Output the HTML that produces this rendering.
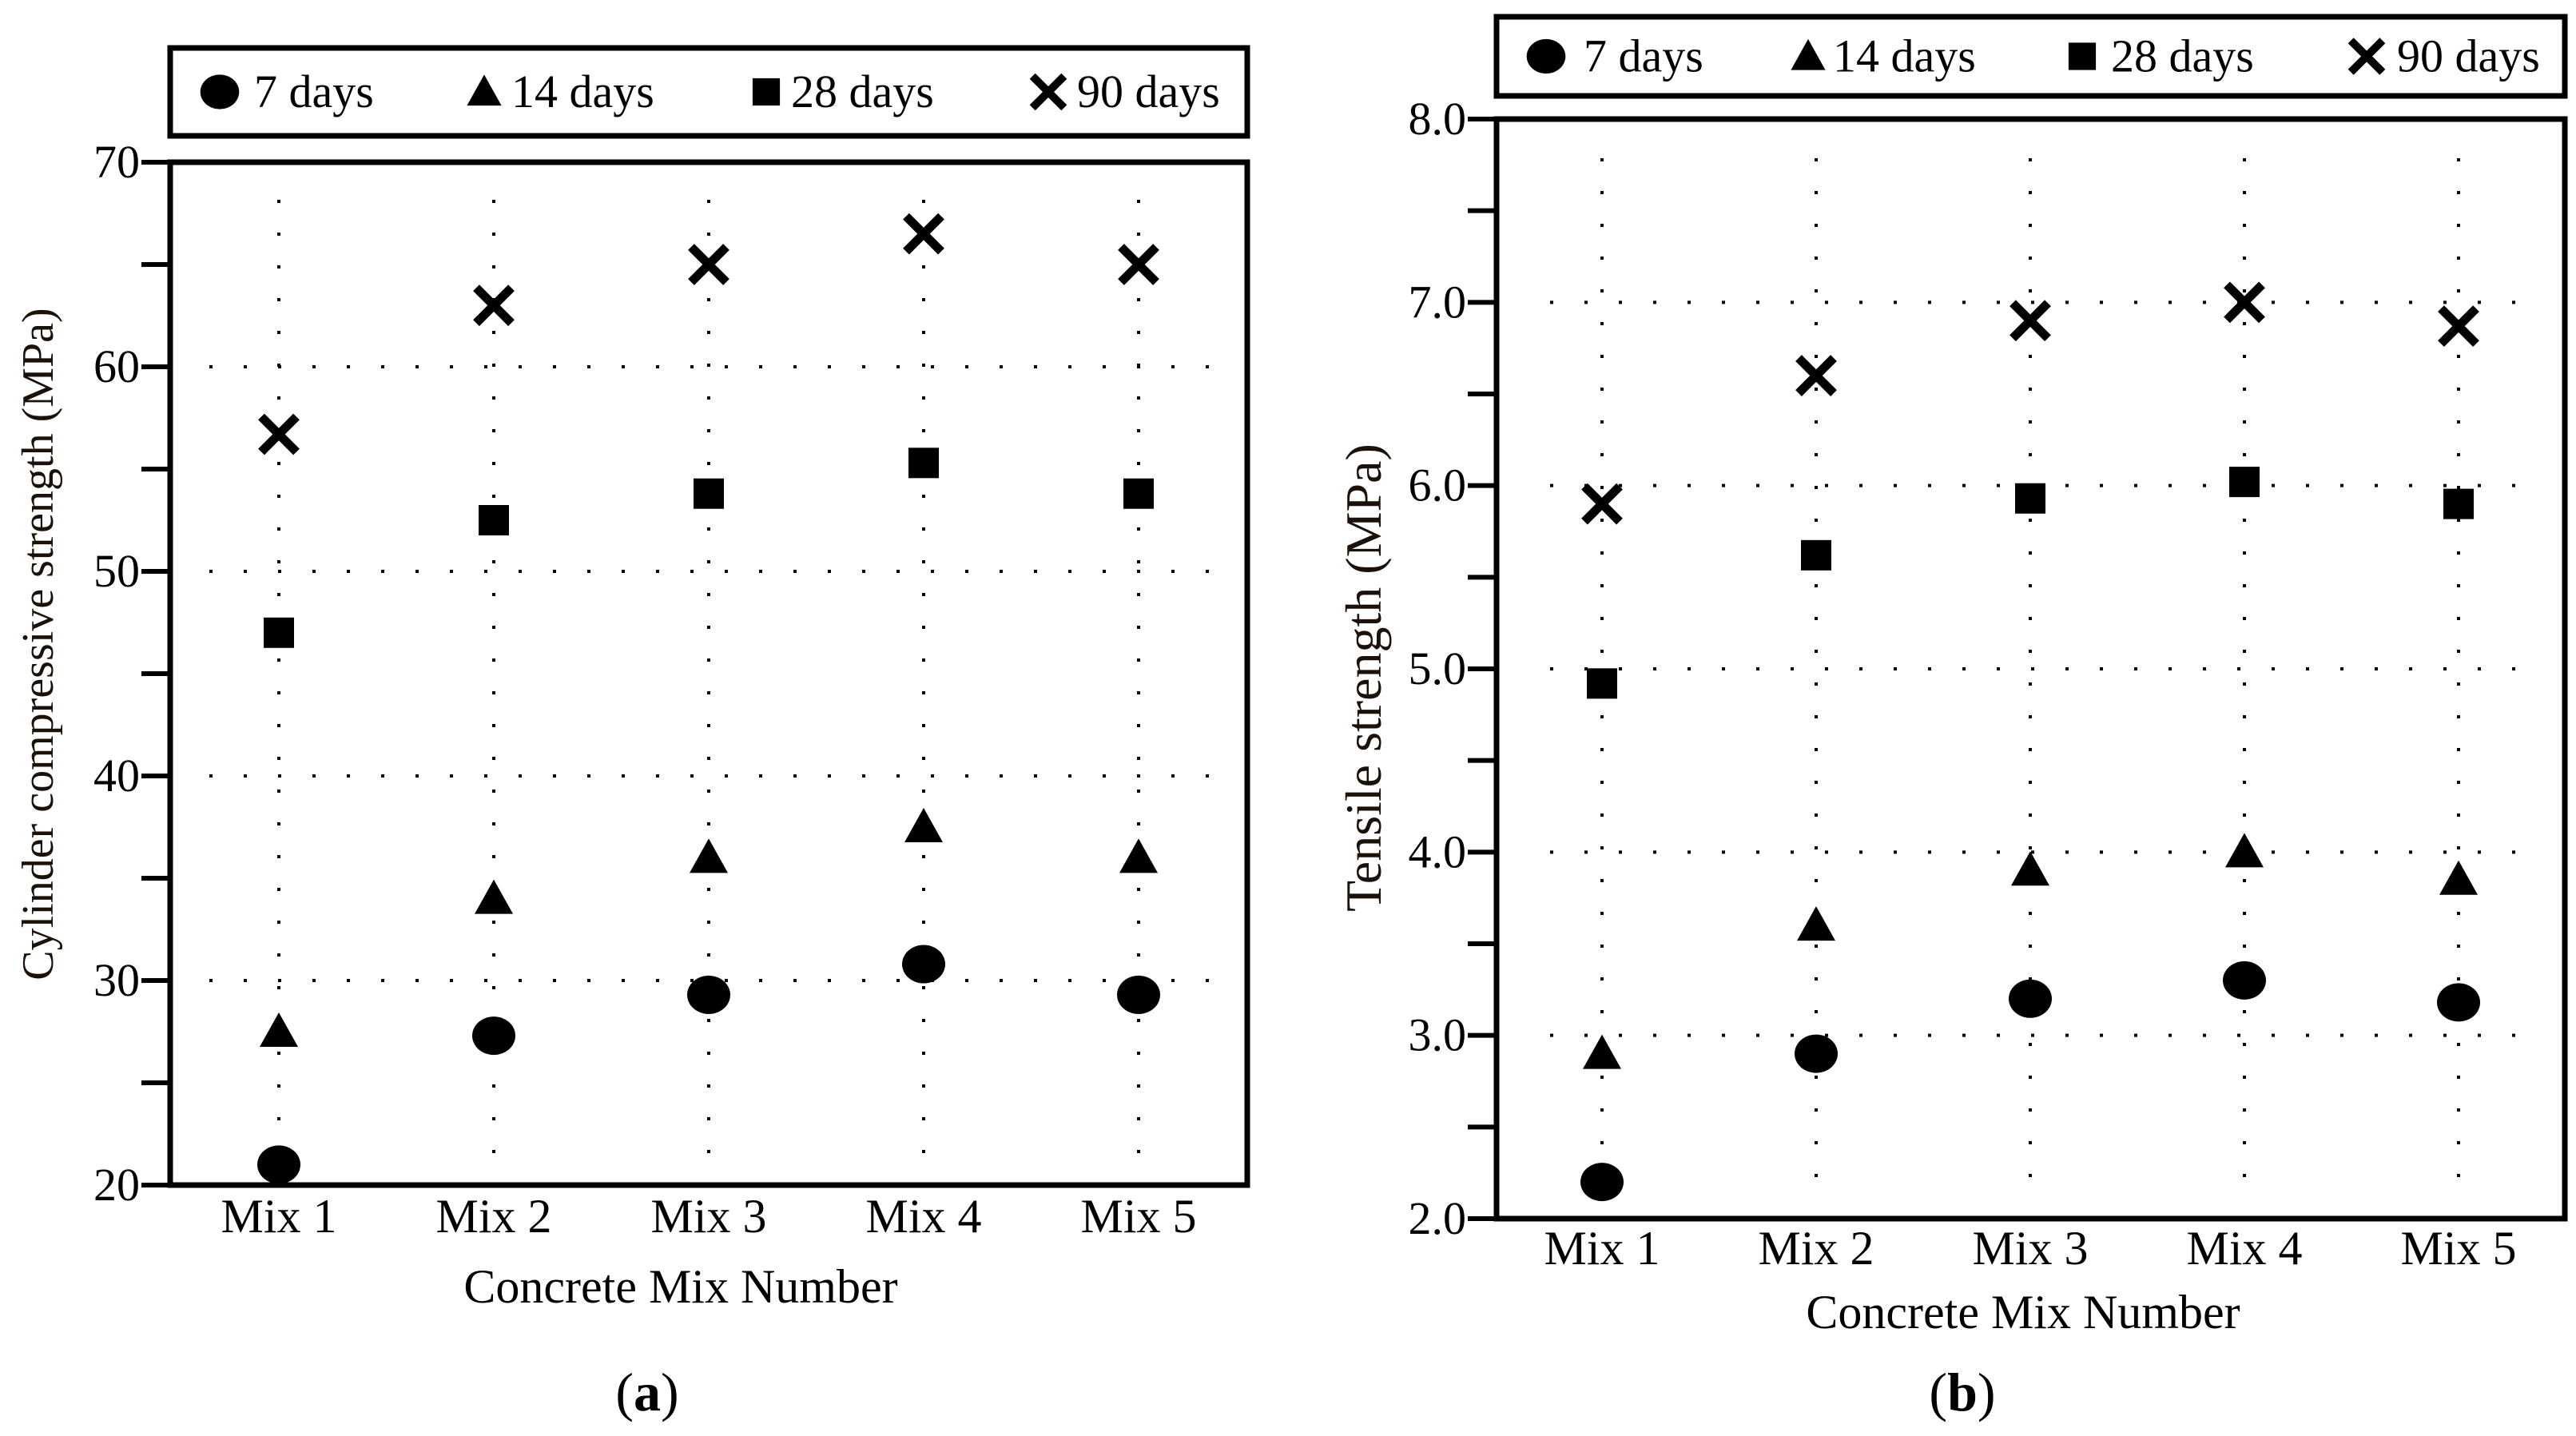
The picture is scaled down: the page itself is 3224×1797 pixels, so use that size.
<!DOCTYPE html>
<html><head><meta charset="utf-8"><style>
html,body{margin:0;padding:0;background:#fff;}
svg{display:block;font-family:"Liberation Serif",serif;}
</style></head><body>
<svg id="fig" width="3224" height="1797" viewBox="0 0 3224 1797" xmlns="http://www.w3.org/2000/svg"></svg>
<script>
const categories = ["Mix 1","Mix 2","Mix 3","Mix 4","Mix 5"];
const seriesNames = ["7 days","14 days","28 days","90 days"];
const compress7 = [21, 27.3, 29.3, 30.8, 29.3];
const compress14 = [27.5, 34, 36, 37.5, 36];
const compress28 = [47, 52.5, 53.8, 55.3, 53.8];
const compress90 = [56.7, 63, 65, 66.5, 65];
const compressTicks = [20, 30, 40, 50, 60, 70];
const tensile7 = [2.2, 2.9, 3.2, 3.3, 3.18];
const tensile14 = [2.9, 3.6, 3.9, 4.0, 3.85];
const tensile28 = [4.92, 5.62, 5.93, 6.02, 5.9];
const tensile90 = [5.9, 6.6, 6.9, 7.0, 6.87];
const tensileTicks = [2.0, 3.0, 4.0, 5.0, 6.0, 7.0, 8.0];

const NS = "http://www.w3.org/2000/svg";
const svg = document.getElementById("fig");
function mk(tag, attrs, parent, text){
  const e = document.createElementNS(NS, tag);
  for (const k in attrs) e.setAttribute(k, attrs[k]);
  if (text !== undefined) e.textContent = text;
  (parent || svg).appendChild(e);
  return e;
}
function marker(type, cx, cy, g, s){
  s = s || 1;
  let e;
  if (type === 0) e = mk("ellipse", {cx:cx, cy:cy, rx:27*s, ry:24*s, fill:"#000"}, g);
  else if (type === 1) e = mk("polygon", {points:`${cx},${cy-24*s} ${cx-24*s},${cy+19*s} ${cx+24*s},${cy+19*s}`, fill:"#000"}, g);
  else if (type === 2) e = mk("rect", {x:cx-19*s, y:cy-19*s, width:38*s, height:38*s, fill:"#000"}, g);
  else e = mk("path", {d:`M${cx-22*s},${cy-22*s}L${cx+22*s},${cy+22*s}M${cx+22*s},${cy-22*s}L${cx-22*s},${cy+22*s}`, stroke:"#000", "stroke-width":11*s, fill:"none"}, g);
  return e;
}
function chart(cfg){
  const g = mk("g", {});
  
  
  const {x0,x1,y0,y1,vmin,vmax,xs} = cfg;
  const Y = v => y1 - (v - vmin) / (vmax - vmin) * (y1 - y0);
  const X = i => xs[0] + i * (xs[1] - xs[0]);
  const grid = mk("g", {}, g);
  
  
  cfg.ticks.forEach((t,i) => {
    if (i === 0 || i === cfg.ticks.length - 1) return;
    mk("line", {x1:cfg.gx0, x2:cfg.gx1, y1:Y(t), y2:Y(t), stroke:"#000", "stroke-width":4, "stroke-dasharray":"4 39"}, grid);
  });
  categories.forEach((c,i) => {
    mk("line", {x1:X(i), x2:X(i), y1:cfg.gy0, y2:cfg.gy1, stroke:"#000", "stroke-width":4, "stroke-dasharray":"4 37"}, grid);
  });
  const fr = mk("rect", {x:x0, y:y0, width:x1-x0, height:y1-y0, fill:"none", stroke:"#000", "stroke-width":7}, g);
  
  
  const ya = mk("g", {}, g);
  
  
  cfg.ticks.forEach((t,i) => {
    mk("line", {x1:x0-36, x2:x0, y1:Y(t), y2:Y(t), stroke:"#000", "stroke-width":6}, ya);
    if (i < cfg.ticks.length - 1) {
      const m = (t + cfg.ticks[i+1]) / 2;
      mk("line", {x1:x0-36, x2:x0, y1:Y(m), y2:Y(m), stroke:"#000", "stroke-width":6}, ya);
    }
    const tl = mk("text", {x:x0-38, y:Y(t)+19, "text-anchor":"end", "font-size":58}, ya, cfg.fmt(t));
    
    
  });
  const yt = mk("text", {transform:`translate(${cfg.ytx},${cfg.yty}) rotate(-90)`, "text-anchor":"middle", "font-size":cfg.ytsize, fill:"#1a1208"}, g, cfg.ytitle);
  
  
  categories.forEach((c,i) => {
    const t = mk("text", {x:X(i), y:cfg.xly, "text-anchor":"middle", "font-size":60}, g, c);
    
    
  });
  const xt = mk("text", {x:cfg.xtx, y:cfg.xty, "text-anchor":"middle", "font-size":60}, g, "Concrete Mix Number");
  
  
  cfg.series.forEach((arr, si) => {
    const sg = mk("g", {}, g);
    
    
    arr.forEach((v,i) => {
      const m = marker(si, X(i), Y(v), sg);
      
      
    });
  });
  const lg = mk("g", {}, g);
  
  
  mk("rect", {x:cfg.lx0, y:cfg.ly0, width:cfg.lx1-cfg.lx0, height:cfg.ly1-cfg.ly0, fill:"#fff", stroke:"#000", "stroke-width":7}, lg);
  const lc = (cfg.ly0 + cfg.ly1) / 2;
  seriesNames.forEach((n,si) => {
    const e = mk("g", {}, lg);
    
    
    marker(si, cfg.lm[si], lc, e, 0.9);
    mk("text", {x:cfg.lt[si], y:lc+19, "font-size":58}, e, n);
  });
  const cap = mk("text", {x:cfg.capx, y:1765, "text-anchor":"middle", "font-size":68}, g);
  
  
  mk("tspan", {}, cap, "(");
  mk("tspan", {"font-weight":"bold"}, cap, cfg.cap);
  mk("tspan", {}, cap, ")");
}
chart({name:"chart-compressive", x0:213, x1:1561, y0:203, y1:1483, vmin:20, vmax:70, xs:[349,618],
  ticks:compressTicks, fmt:t=>String(t), gx0:262, gx1:1520, gy0:250, gy1:1448,
  ytitle:"Cylinder compressive strength (MPa)", ytx:66, yty:806, ytsize:56,
  xly:1542, xtx:852, xty:1630, series:[compress7,compress14,compress28,compress90],
  lx0:213, lx1:1561, ly0:60, ly1:170, lm:[275,606,959,1312], lt:[318,640,990,1348], capx:810, cap:"a"});
chart({name:"chart-tensile", x0:1873, x1:3210, y0:149, y1:1525, vmin:2, vmax:8, xs:[2005,2273],
  ticks:tensileTicks, fmt:t=>t.toFixed(1), gx0:1940, gx1:3165, gy0:198, gy1:1478,
  ytitle:"Tensile strength (MPa)", ytx:1728, yty:848, ytsize:64,
  xly:1582, xtx:2532, xty:1662, series:[tensile7,tensile14,tensile28,tensile90],
  lx0:1873, lx1:3210, ly0:21, ly1:120, lm:[1935,2263,2606,2962], lt:[1982,2294,2642,3000], capx:2456, cap:"b"});
</script>
</body></html>
